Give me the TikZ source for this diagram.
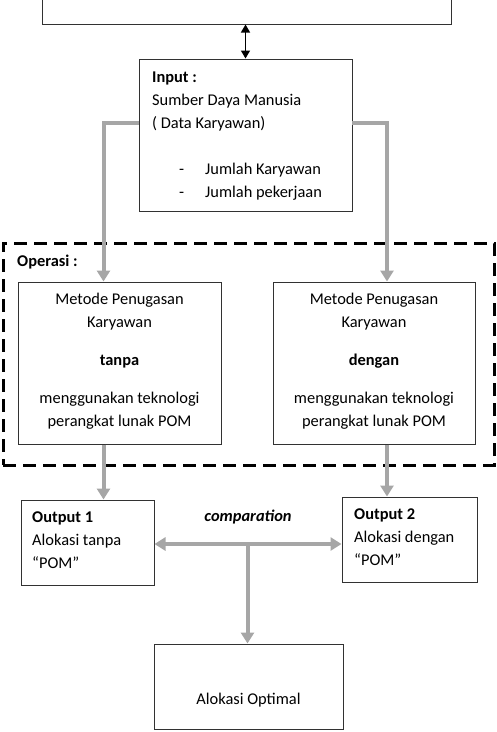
\documentclass[tikz,border=0pt]{standalone}
\usepackage{fontspec}
\setmainfont{Carlito}
\usetikzlibrary{arrows.meta,calc}
\definecolor{arrgray}{RGB}{166,166,166}
\definecolor{boxline}{RGB}{50,50,50}
\begin{document}
\begin{tikzpicture}[x=1pt,y=-1pt,
  every node/.style={font=\fontsize{16.4}{23}\selectfont},
  boxn/.style={draw=boxline,line width=1pt,rectangle,inner sep=0pt,fill=white},
  txt/.style={inner sep=0pt,anchor=base west},
  ctxt/.style={inner sep=0pt,anchor=base},
  garrow/.style={draw=arrgray,line width=4pt,-{Triangle[width=13pt,length=11pt]}},
  gdarrow/.style={draw=arrgray,line width=4pt,{Triangle[width=13pt,length=11pt]}-{Triangle[width=13pt,length=11pt]}},
  barrow/.style={draw=black,line width=1.4pt,{Triangle[width=9pt,length=8pt]}-{Triangle[width=9pt,length=8pt]}},
  dashbox/.style={draw=black,line width=3pt,dash pattern=on 13pt off 7pt,rectangle,inner sep=0pt}
]
\useasboundingbox (0,0) rectangle (497,732);
% boxes
\node[boxn,minimum width=409pt,minimum height=64pt] (top) at (246.5,-8) {};
\node[boxn,minimum width=213pt,minimum height=152pt] (inp) at (245.5,135) {};
\node[dashbox,minimum width=491pt,minimum height=222pt] (ops) at (248.5,354) {};
\node[boxn,minimum width=203pt,minimum height=162pt] (lb) at (119.5,363) {};
\node[boxn,minimum width=202pt,minimum height=162pt] (rb) at (374,363) {};
\node[boxn,minimum width=133pt,minimum height=85pt] (o1) at (87.5,542.5) {};
\node[boxn,minimum width=135pt,minimum height=85pt] (o2) at (409.5,539.5) {};
\node[boxn,minimum width=189pt,minimum height=85pt] (fin) at (248.5,686.5) {};
% input text
\node[txt,font=\fontsize{16.4}{23}\selectfont\bfseries] (t1) at (152,82) {Input :};
\node[txt] (t2) at (152,105) {Sumber Daya Manusia};
\node[txt] (t3) at (152,128) {( Data Karyawan)};
\node[txt] (t4) at (179,174) {-};
\node[txt] (t5) at (205,174) {Jumlah Karyawan};
\node[txt] (t6) at (179,197) {-};
\node[txt] (t7) at (205,197) {Jumlah pekerjaan};
% operasi
\node[txt,font=\fontsize{16.4}{23}\selectfont\bfseries] (op) at (17,266) {Operasi :};
\node[ctxt] (l1) at (lb.center |- 0,304) {Metode Penugasan};
\node[ctxt] (l2) at (lb.center |- 0,327) {Karyawan};
\node[ctxt,font=\fontsize{16.4}{23}\selectfont\bfseries] (l3) at (lb.center |- 0,365) {tanpa};
\node[ctxt] (l4) at (lb.center |- 0,403) {menggunakan teknologi};
\node[ctxt] (l5) at (lb.center |- 0,426) {perangkat lunak POM};
\node[ctxt] (r1) at (rb.center |- 0,304) {Metode Penugasan};
\node[ctxt] (r2) at (rb.center |- 0,327) {Karyawan};
\node[ctxt,font=\fontsize{16.4}{23}\selectfont\bfseries] (r3) at (rb.center |- 0,365) {dengan};
\node[ctxt] (r4) at (rb.center |- 0,403) {menggunakan teknologi};
\node[ctxt] (r5) at (rb.center |- 0,426) {perangkat lunak POM};
% outputs
\node[txt,font=\fontsize{16.4}{23}\selectfont\bfseries] (a1) at (32,522) {Output 1};
\node[txt] (a2) at (32,545) {Alokasi tanpa};
\node[txt] (a3) at (32,568) {“POM”};
\node[txt,font=\fontsize{16.4}{23}\selectfont\bfseries] (b1) at (354,519) {Output 2};
\node[txt] (b2) at (354,542) {Alokasi dengan};
\node[txt] (b3) at (354,565) {“POM”};
\node[ctxt,font=\fontsize{16.4}{23}\selectfont\bfseries\itshape] (cmpt) at (248,521) {comparation};
\node[ctxt] (f1) at (248.5,704) {Alokasi Optimal};
% coordinates
\coordinate (lj) at (139,123);
\coordinate (rj) at (352,123);
\coordinate (aL) at (103.5,0);
\coordinate (aR) at (387,0);
\coordinate (cmp) at (247.5,544);
% connectors
\draw[barrow] (top.south -| inp.north) -- (inp.north);
\draw[garrow] (lj) -- (lj -| aL) -- (lb.north -| aL);
\draw[garrow] (rj) -- (rj -| aR) -- (rb.north -| aR);
\draw[garrow] (lb.south -| aL) -- (o1.north -| aL);
\draw[garrow] (rb.south -| aR) -- (o2.north -| aR);
\draw[gdarrow] (o1.east |- cmp) -- (o2.west |- cmp);
\draw[garrow] (cmp) -- (fin.north -| cmp);
\end{tikzpicture}
\end{document}
